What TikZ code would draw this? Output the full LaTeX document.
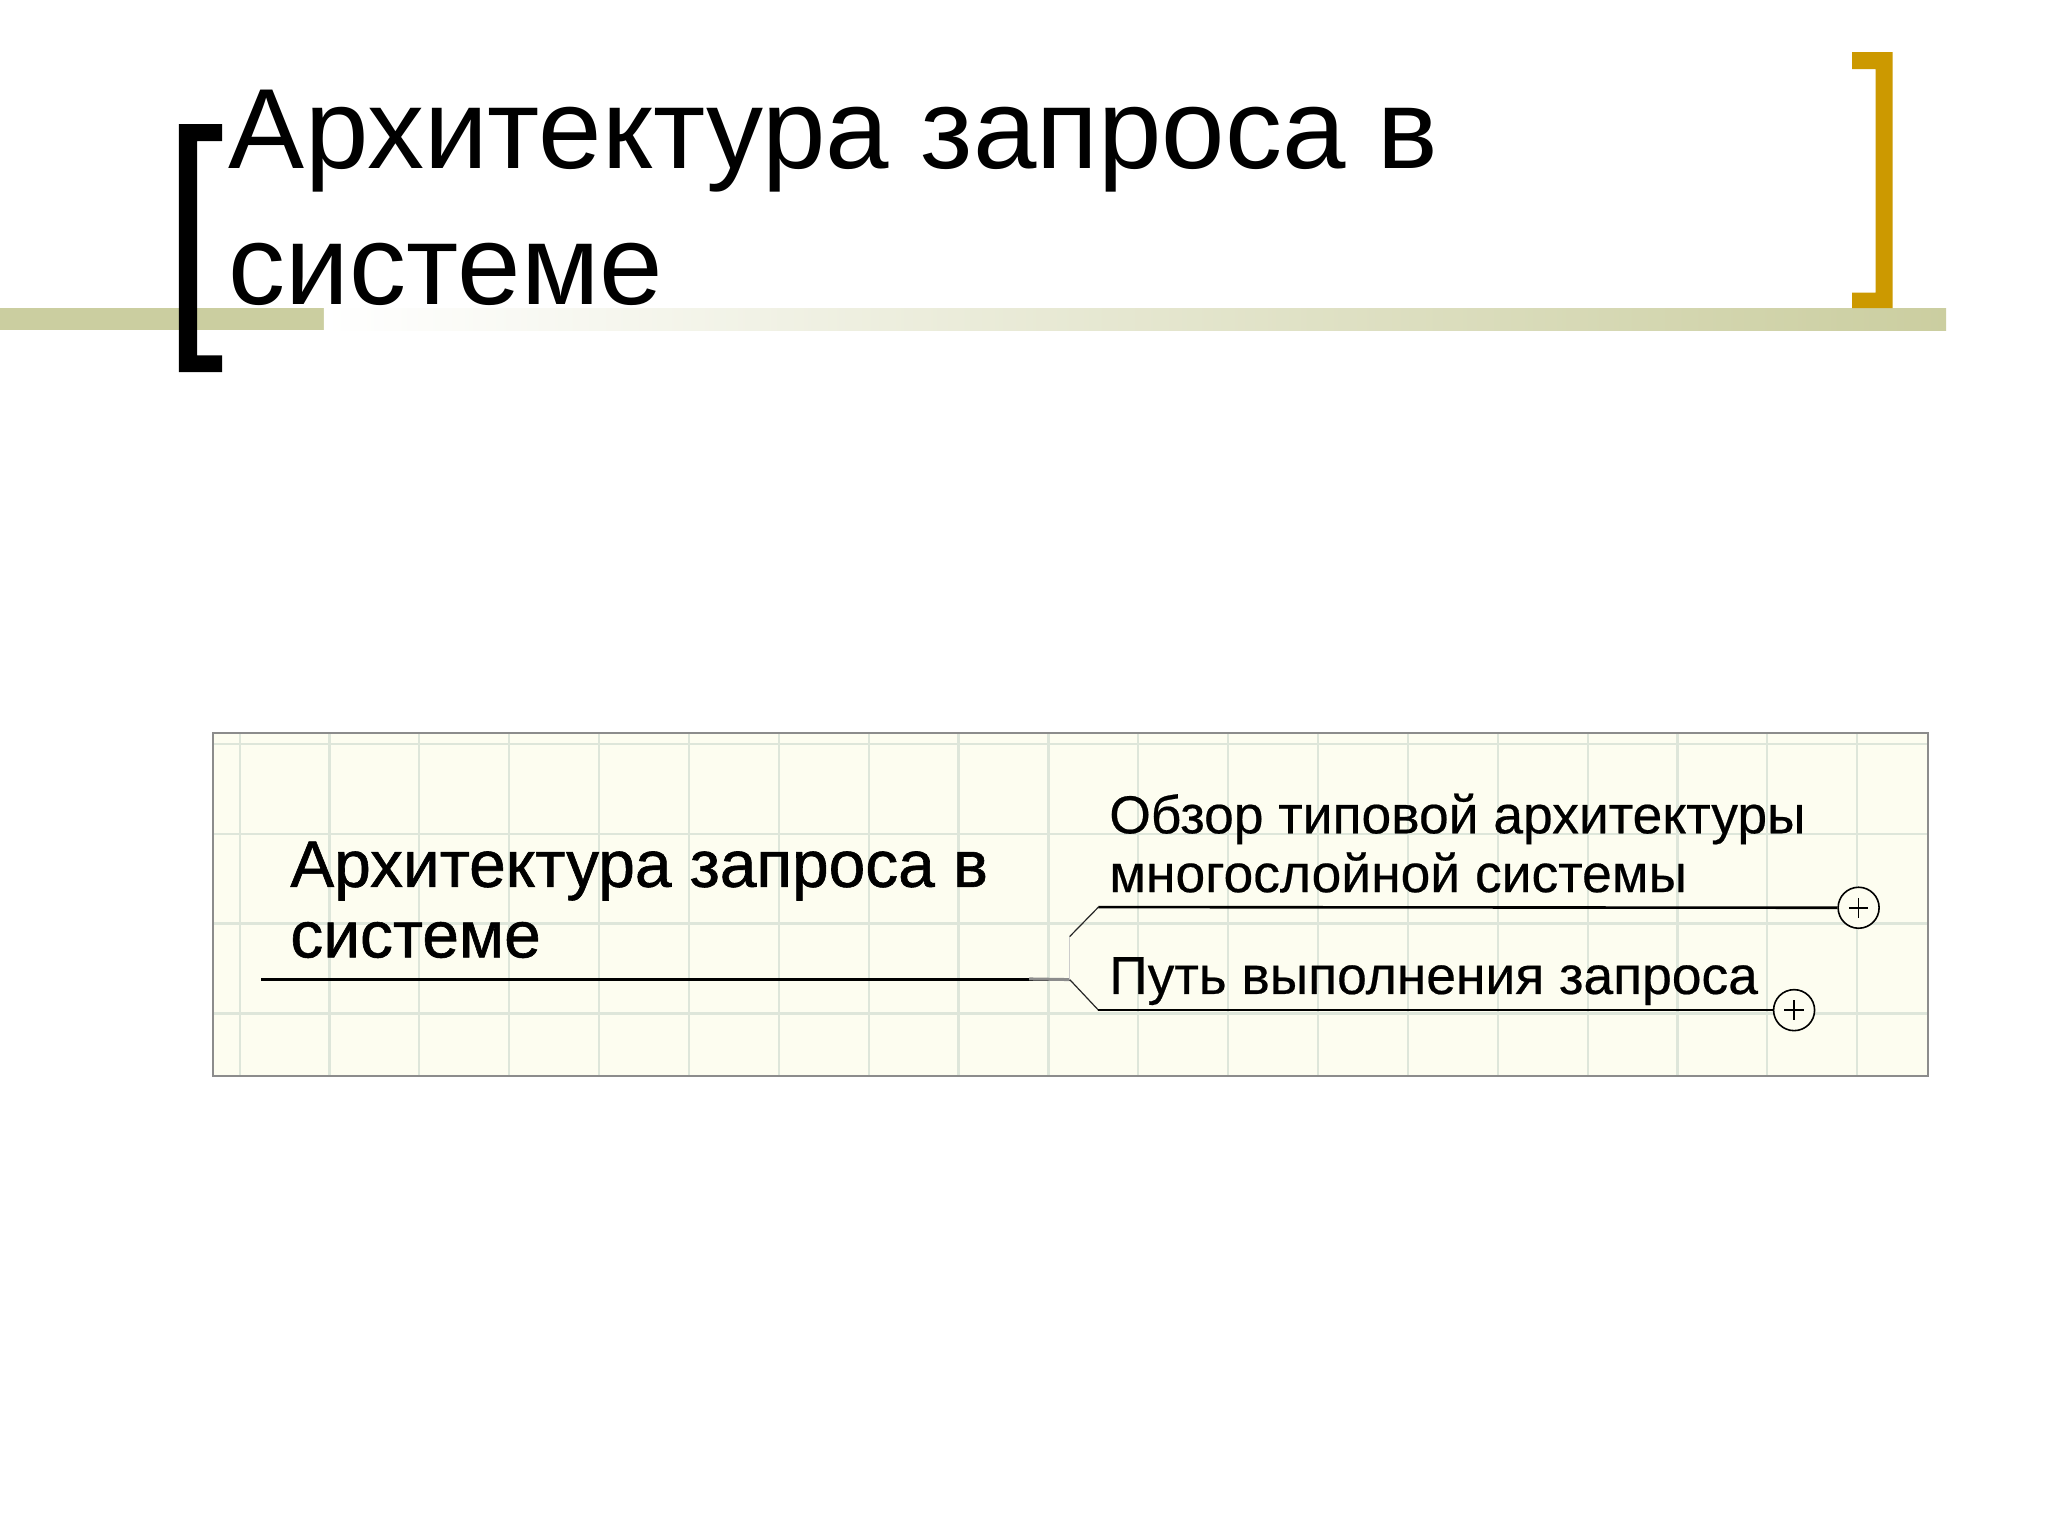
\documentclass[tikz,border=0pt]{standalone}
\usepackage{fontspec}
\setmainfont{Liberation Sans}
\newfontfamily\heavyfont[FakeBold=0.9]{Liberation Sans}
\newfontfamily\midfont[FakeBold=0.4]{Liberation Sans}
\definecolor{bandcol}{RGB}{203,206,160}
\definecolor{goldcol}{RGB}{204,153,0}
\definecolor{boxfill}{RGB}{253,253,240}
\definecolor{boxborder}{RGB}{140,140,140}
\definecolor{gridcol}{RGB}{222,230,218}
\tikzset{
  titletext/.style={anchor=base west, inner sep=0pt, font=\fontsize{57}{68}\selectfont},
  mmleft/.style={anchor=base west, inner sep=0pt, font=\heavyfont\fontsize{32.9}{36}\selectfont},
  mmright/.style={anchor=base west, inner sep=0pt, font=\midfont\fontsize{26.7}{30}\selectfont},
  mmline/.style={draw=black, line width=1.3pt},
  diag/.style={draw=black!85, line width=0.6pt},
  faint/.style={draw=black!20, line width=0.6pt},
  plusnode/.style={circle, draw=black, line width=0.8pt, fill=boxfill, minimum size=20.5pt, inner sep=0pt,
    path picture={\draw[line width=0.8pt] ([xshift=-4.9pt]path picture bounding box.center) -- ([xshift=4.9pt]path picture bounding box.center);
                  \draw[line width=0.8pt] ([yshift=-4.9pt]path picture bounding box.center) -- ([yshift=4.9pt]path picture bounding box.center);}}
}
\begin{document}
\begin{tikzpicture}[x=0.6531pt,y=-0.6531pt]
\useasboundingbox (0,0) rectangle (1568,1176);
\fill[white] (0,0) rectangle (1568,1176);
% title band
\fill[bandcol] (0,236) rectangle (248,253);
\shade[left color=white,right color=bandcol] (248,236) rectangle (1490,253);
% brackets
\fill[black] (137,95) rectangle (170,108) (137,95) rectangle (151,285) (137,272) rectangle (170,285);
\fill[goldcol] (1418,40) rectangle (1449,53) (1436,40) rectangle (1449,236) (1418,224) rectangle (1449,236);
% title
\node[titletext] (t1) at (175,129) {Архитектура запроса в};
\node[titletext] (t2) at (175,233.5) {системе};
% mind map frame
\fill[boxfill] (163,561) rectangle (1476,824);
\foreach \i in {0,...,18} \draw[gridcol, line width=1.1pt] ({183.5+68.8*\i},562) -- ({183.5+68.8*\i},823);
\foreach \yy in {569.5,638.3,707.1,775.9} \draw[gridcol, line width=1.1pt] (164,\yy) -- (1475,\yy);
\draw[boxborder, line width=0.9pt] (163,561) rectangle (1476,824);
% texts
\node[mmleft] (c1) at (222,679) {Архитектура запроса в};
\node[mmleft] (c2) at (222,733) {системе};
\node[mmright] (b1a) at (849,638) {Обзор типовой архитектуры};
\node[mmright] (b1b) at (849,683) {многослойной системы};
\node[mmright] (b2) at (849,761) {Путь выполнения запроса};
% connectors
\coordinate (root) at (200,750);
\coordinate (hub) at (819,750);
\coordinate (uknee) at (819,717);
\coordinate (u0) at (841,694.5);
\coordinate (l0) at (841,773.4);
\node[plusnode] (p1) at (1423,695) {};
\node[plusnode] (p2) at (1373.6,773.4) {};
\draw[mmline] (root) -- (hub);
\draw[draw=black!45, line width=1.5pt] (788,749.5) -- (hub);
\draw[faint] (hub) -- (uknee);
\draw[diag] (uknee) -- (u0);
\draw[diag] (hub) -- (l0);
\draw[mmline] (u0) -- (p1.west);
\draw[mmline] (l0) -- (p2.west);
\end{tikzpicture}
\end{document}
